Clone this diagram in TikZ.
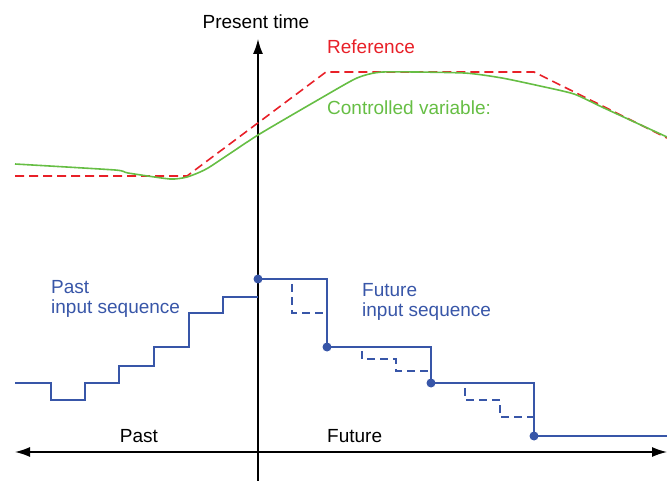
\documentclass[tikz,border=0pt]{standalone}
\usepackage{fontspec}
\setmainfont{Liberation Sans}
\usetikzlibrary{arrows.meta}
\definecolor{refred}{RGB}{232,32,40}
\definecolor{cvgreen}{RGB}{102,190,68}
\definecolor{inblue}{RGB}{56,86,168}
\tikzset{
  label text/.style={font=\fontsize{19}{20}\selectfont, inner sep=0pt},
  time axis/.style={line width=1.4pt},
  ref line/.style={refred, line width=1.6pt, dash pattern=on 9pt off 5pt},
  cv line/.style={cvgreen, line width=1.6pt},
  input line/.style={inblue, line width=1.5pt},
  input dashed/.style={inblue, line width=1.5pt, dash pattern=on 8pt off 5pt},
  sample/.style={circle, fill=inblue, inner sep=0pt, minimum size=9pt}
}
\begin{document}
\begin{tikzpicture}[x=1pt, y=-1pt]
\useasboundingbox (0,0) rectangle (667,481);
% Axes
\draw[time axis, -{Latex[length=15pt,width=10pt]}] (258,481) -- (258,39);
\draw[time axis, {Latex[length=15pt,width=10pt]}-{Latex[length=15pt,width=10pt]}] (15,452) -- (667,452);
\node[label text, anchor=base] (now) at (256,29) {Present time};
\node[label text, anchor=base] (past) at (139,442) {Past};
\node[label text, anchor=base west] (future) at (327,442) {Future};

% Reference trajectory
\draw[ref line] (15,176) -- (187,176) -- (326,72) -- (534,72) -- (667,138);
\node[label text, refred, anchor=base] (ref) at (371,54) {Reference};

% Controlled variable
\draw[cv line] plot[smooth, tension=0.35] coordinates {(15,164) (115,170) (128,173) (170,179) (187,177) (208,168) (258,135) (323,97) (357,78) (383,72) (464,73) (502,78) (540,86) (574,94) (604,108) (667,137)};
\node[label text, cvgreen, anchor=base west] (cv) at (327,115) {Controlled variable:};

% Past input sequence
\draw[input line] (15,383) -- (51,383) -- (51,400) -- (85,400) -- (85,383) -- (119,383) -- (119,366) -- (154,366) -- (154,347) -- (189,347) -- (189,313) -- (223,313) -- (223,297) -- (258,297);
\node[label text, inblue, align=left, anchor=north west] (pastin) at (51,280) {Past\\input sequence};

% Future input sequence
\node[sample] (u0) at (258,279) {};
\node[sample] (u1) at (327,347) {};
\node[sample] (u2) at (431,383) {};
\node[sample] (u3) at (534,436) {};
\draw[input line] (u0.center) -| (u1.center) -| (u2.center) -| (u3.center) -- (667,436);
\draw[input dashed] (u0.center) -- (292,279) |- (327,313);
\draw[input dashed] (u1.center) -- (362,347) |- (396,359) |- (431,371);
\draw[input dashed] (u2.center) -- (465,383) |- (500,400) |- (534,417);
\draw[input dashed] (u3.center) -- (667,436);
\node[label text, inblue, align=left, anchor=north west] (futin) at (362,283) {Future\\input sequence};
\end{tikzpicture}
\end{document}
